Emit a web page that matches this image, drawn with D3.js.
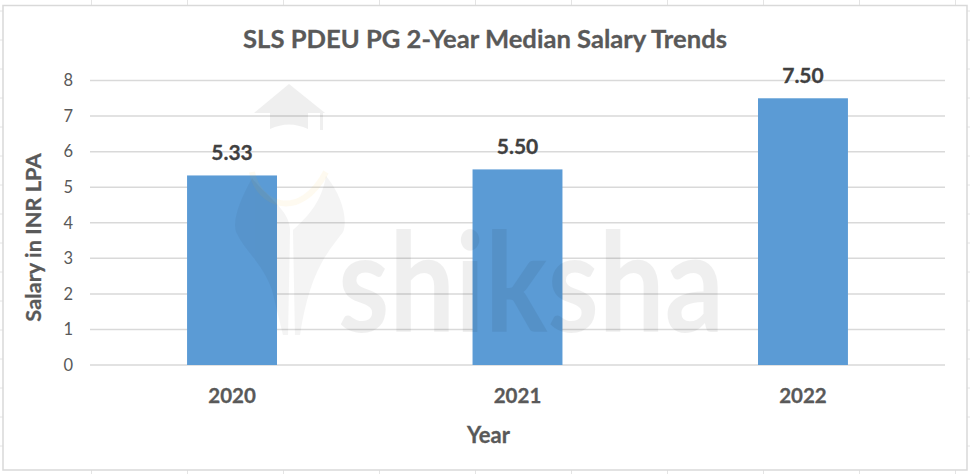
<!DOCTYPE html>
<html>
<head>
<meta charset="utf-8">
<script src="https://cdn.jsdelivr.net/npm/d3@7"></script>
<style>
  html, body { margin: 0; padding: 0; background: #fff; }
  svg { display: block; }
  text { font-family: Lato, "Open Sans", sans-serif; }
</style>
</head>
<body>
<div id="chart"></div>
<script>
const years = ['2020', '2021', '2022'];
const salaries = [5.33, 5.50, 7.50];
const yTicks = [0, 1, 2, 3, 4, 5, 6, 7, 8];

const chartTitle = 'SLS PDEU PG 2-Year Median Salary Trends';
const xTitle = 'Year';
const yTitle = 'Salary in INR LPA';

const width = 970,
      height = 474;

const scX = d3.scaleBand().domain(years).range([90, 945]).paddingInner(0.685).paddingOuter(0.34),
      scY = d3.scaleLinear().domain([0, 8]).range([365, 80.5]);

const svg = d3.select('#chart').append('svg').attr('width', width).attr('height', height);

svg.append('rect').attr('width', width).attr('height', height).attr('fill', '#fff');

// spreadsheet cell marks peeking out round the chart frame
const cellX = d3.range(91.5, width, 96),
      cellY = d3.range(11, height, 29);
const marks = svg.append('g').attr('stroke', '#e4e4e4').attr('stroke-width', 1);
cellX.forEach(x => {
  marks.append('line').attr('x1', x).attr('x2', x).attr('y1', 0).attr('y2', 5);
  marks.append('line').attr('x1', x).attr('x2', x).attr('y1', 470).attr('y2', height);
});
cellY.forEach(y => {
  marks.append('line').attr('x1', 0).attr('x2', 3).attr('y1', y).attr('y2', y);
  marks.append('line').attr('x1', 967).attr('x2', width).attr('y1', y).attr('y2', y);
});

// chart frame
svg.append('rect')
  .attr('x', 3).attr('y', 5.5).attr('width', 964).attr('height', 464.5)
  .attr('fill', '#fff').attr('stroke', '#d9d9d9').attr('stroke-width', 1.5);

// gridlines
svg.append('g').selectAll('line').data(yTicks).join('line')
  .attr('x1', 90).attr('x2', 945)
  .attr('y1', d => scY(d)).attr('y2', d => scY(d))
  .attr('stroke', '#d9d9d9').attr('stroke-width', 1.5);

// y axis labels
const yAxis = svg.append('g').attr('transform', 'translate(73,0)')
  .call(d3.axisLeft(scY).tickValues(yTicks).tickSize(0).tickPadding(0));
yAxis.select('.domain').remove();
yAxis.selectAll('text')
  .attr('font-size', 16.5).attr('fill', '#595959')
  .style('font-family', 'Lato, sans-serif');

// bars
svg.append('g').selectAll('rect').data(salaries).join('rect')
  .attr('x', (d, i) => scX(years[i]))
  .attr('y', d => scY(d))
  .attr('width', scX.bandwidth())
  .attr('height', d => scY(0) - scY(d))
  .attr('fill', '#5b9bd5');

// value labels
svg.append('g').selectAll('text').data(salaries).join('text')
  .attr('x', (d, i) => scX(years[i]) + scX.bandwidth() / 2)
  .attr('y', d => scY(d) - 15)
  .attr('text-anchor', 'middle')
  .attr('font-size', 21).attr('font-weight', 700).attr('fill', '#404040')
  .attr('stroke', '#404040').attr('stroke-width', 0.3)
  .text(d => d.toFixed(2));

// x axis labels
const xAxis = svg.append('g').attr('transform', 'translate(0,403)')
  .call(d3.axisBottom(scX).tickSize(0).tickPadding(0));
xAxis.select('.domain').remove();
xAxis.selectAll('text')
  .attr('dy', 0)
  .attr('font-size', 20.5).attr('font-weight', 700).attr('fill', '#595959')
  .attr('stroke', '#595959').attr('stroke-width', 0.3)
  .style('font-family', 'Lato, sans-serif');

// titles
svg.append('text').attr('x', 485).attr('y', 48)
  .attr('text-anchor', 'middle').attr('font-size', 25.6).attr('font-weight', 700).attr('fill', '#595959')
  .attr('stroke', '#595959').attr('stroke-width', 0.3)
  .text(chartTitle);
svg.append('text').attr('x', 488.5).attr('y', 443)
  .attr('text-anchor', 'middle').attr('font-size', 22).attr('font-weight', 700).attr('fill', '#595959')
  .attr('stroke', '#595959').attr('stroke-width', 0.3)
  .text(xTitle);
svg.append('text').attr('transform', 'translate(41,237.5) rotate(-90)')
  .attr('text-anchor', 'middle').attr('font-size', 21.8).attr('font-weight', 700).attr('fill', '#595959')
  .attr('stroke', '#595959').attr('stroke-width', 0.3)
  .text(yTitle);

// shiksha watermark, laid over everything
const mark = svg.append('g').attr('fill', '#000').attr('pointer-events', 'none');
const cap = mark.append('g').attr('opacity', 0.06);
cap.append('path').attr('d', 'M289,84 L325,113 L254,113 Z');
cap.append('path').attr('d', 'M270,113 L308,113 L308,129 Q289,120 270,129 Z');
cap.append('path').attr('d', 'M320,113 L323,113 L323,130 L320,130 Z');
const flame = mark.append('g').attr('opacity', 0.04);
flame.append('path').attr('d', 'M252,178 C240,200 232,220 236,232 C245,252 262,262 272,290 L283,335 L288,335 L290,230 C290,210 265,195 252,178 Z');
flame.append('path').attr('d', 'M326,176 C342,195 348,220 343,232 C328,252 310,270 300,335 L295,335 L293,230 C310,215 322,200 326,176 Z');
mark.append('text')
  .attr('x', 338).attr('y', 332)
  .attr('textLength', 386).attr('lengthAdjust', 'spacingAndGlyphs')
  .attr('font-size', 138).attr('font-weight', 700)
  .attr('opacity', 0.06)
  .style('font-family', 'Lato, sans-serif')
  .text('shiksha');

// faint orange ring of the logo
svg.append('path')
  .attr('d', 'M252,172 C258,205 300,222 326,172')
  .attr('fill', 'none').attr('stroke', '#f7b32b').attr('stroke-opacity', 0.07).attr('stroke-width', 6);
</script>
</body>
</html>
